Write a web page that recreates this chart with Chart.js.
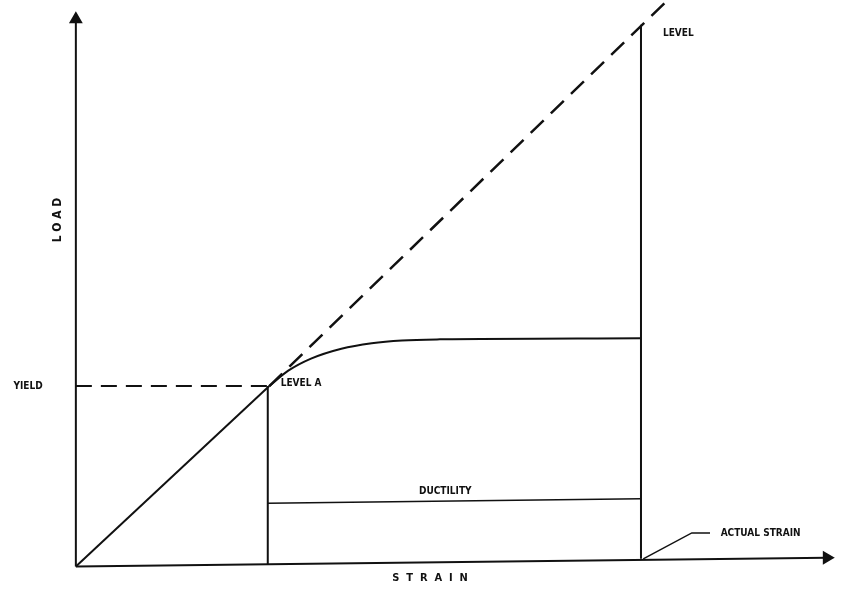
<!DOCTYPE html>
<html>
<head>
<meta charset="utf-8">
<script src="https://cdn.jsdelivr.net/npm/chart.js@4"></script>
<style>
  html, body { margin: 0; padding: 0; background: #fff; }
  canvas { display: block; }
</style>
</head>
<body>
<canvas id="chart" width="842" height="594"></canvas>
<script>
// strain / load pairs (arbitrary units)
const loadAxis = [[0, 0], [0, 99.5]];
const strainAxis = [[0, 0], [99, 1.6]];
const elastic = [[0, 0], [25.5, 32.8]];
const elasticExtension = [[25.5, 32.8], [77.9, 102.8]];
const yieldLevel = [[0, 32.8], [25.5, 32.8]];
const actualCurve = [[25.5, 32.8], [28, 35.6], [31, 37.8], [35, 39.6], [39, 40.6],
                     [43, 41.1], [48, 41.3], [74.5, 41.5]];
const levelA = [[25.3, 32.8], [25.3, 0.3]];
const levelB = [[74.5, 98.5], [74.5, 1.4]];
const ductility = [[25.3, 11.5], [74.5, 12.3]];
const leader = [[74.8, 1.4], [81.2, 6.1], [83.6, 6.1]];

const toXY = pts => pts.map(p => ({ x: p[0], y: p[1] }));

const ink = '#111';

function line(data, extra) {
  return Object.assign({
    data: toXY(data),
    showLine: true,
    borderColor: ink,
    borderWidth: 2,
    pointRadius: 0,
    fill: false
  }, extra || {});
}

// arrow head only on the last point of an axis
const arrowRadius = ctx => ctx.dataIndex === ctx.dataset.data.length - 1 ? 6 : 0;

// text labels drawn at data coordinates
const notes = [
  { text: 'L O A D', x: -2.4, y: 63, rotate: -Math.PI / 2, align: 'center', size: 12 },
  { text: 'YIELD', x: -6.3, y: 32.8, align: 'center', size: 10 },
  { text: 'LEVEL A', x: 27, y: 33.2, align: 'left', size: 10 },
  { text: 'LEVEL', x: 77.4, y: 97, align: 'left', size: 10 },
  { text: 'DUCTILITY', x: 48.7, y: 13.6, align: 'center', size: 10 },
  { text: 'S  T  R  A  I  N', x: 46.7, y: -2.1, align: 'center', size: 11 },
  { text: 'ACTUAL STRAIN', x: 85, y: 6.1, align: 'left', size: 10 }
];

const notesPlugin = {
  id: 'notes',
  afterDatasetsDraw(chart) {
    const { ctx, scales } = chart;
    ctx.save();
    ctx.fillStyle = ink;
    ctx.textBaseline = 'middle';
    notes.forEach(n => {
      ctx.save();
      ctx.translate(scales.x.getPixelForValue(n.x), scales.y.getPixelForValue(n.y));
      if (n.rotate) ctx.rotate(n.rotate);
      ctx.font = 'bold ' + n.size + 'px "Liberation Sans Narrow", "DejaVu Sans Condensed", sans-serif';
      ctx.textAlign = n.align;
      ctx.fillText(n.text, 0, 0);
      ctx.restore();
    });
    ctx.restore();
  }
};

new Chart(document.getElementById('chart'), {
  type: 'scatter',
  data: {
    datasets: [
      line(loadAxis, { pointStyle: 'triangle', pointRadius: arrowRadius,
        pointBackgroundColor: ink, pointBorderColor: ink }),
      line(strainAxis, { pointStyle: 'triangle', pointRadius: arrowRadius, rotation: 90,
        pointBackgroundColor: ink, pointBorderColor: ink }),
      line(elastic),
      line(elasticExtension, { borderDash: [18, 10], borderWidth: 2.5 }),
      line(yieldLevel, { borderDash: [16, 9] }),
      line(actualCurve, { cubicInterpolationMode: 'monotone' }),
      line(levelA),
      line(levelB),
      line(ductility, { borderWidth: 1.5 }),
      line(leader, { borderWidth: 1.5 })
    ]
  },
  options: {
    responsive: false,
    animation: false,
    layout: { padding: 0, autoPadding: false },
    plugins: { legend: { display: false }, tooltip: { enabled: false } },
    scales: {
      x: { type: 'linear', min: -10, max: 101, display: false },
      y: { type: 'linear', min: -5, max: 103, display: false }
    }
  },
  plugins: [notesPlugin]
});
</script>
</body>
</html>
